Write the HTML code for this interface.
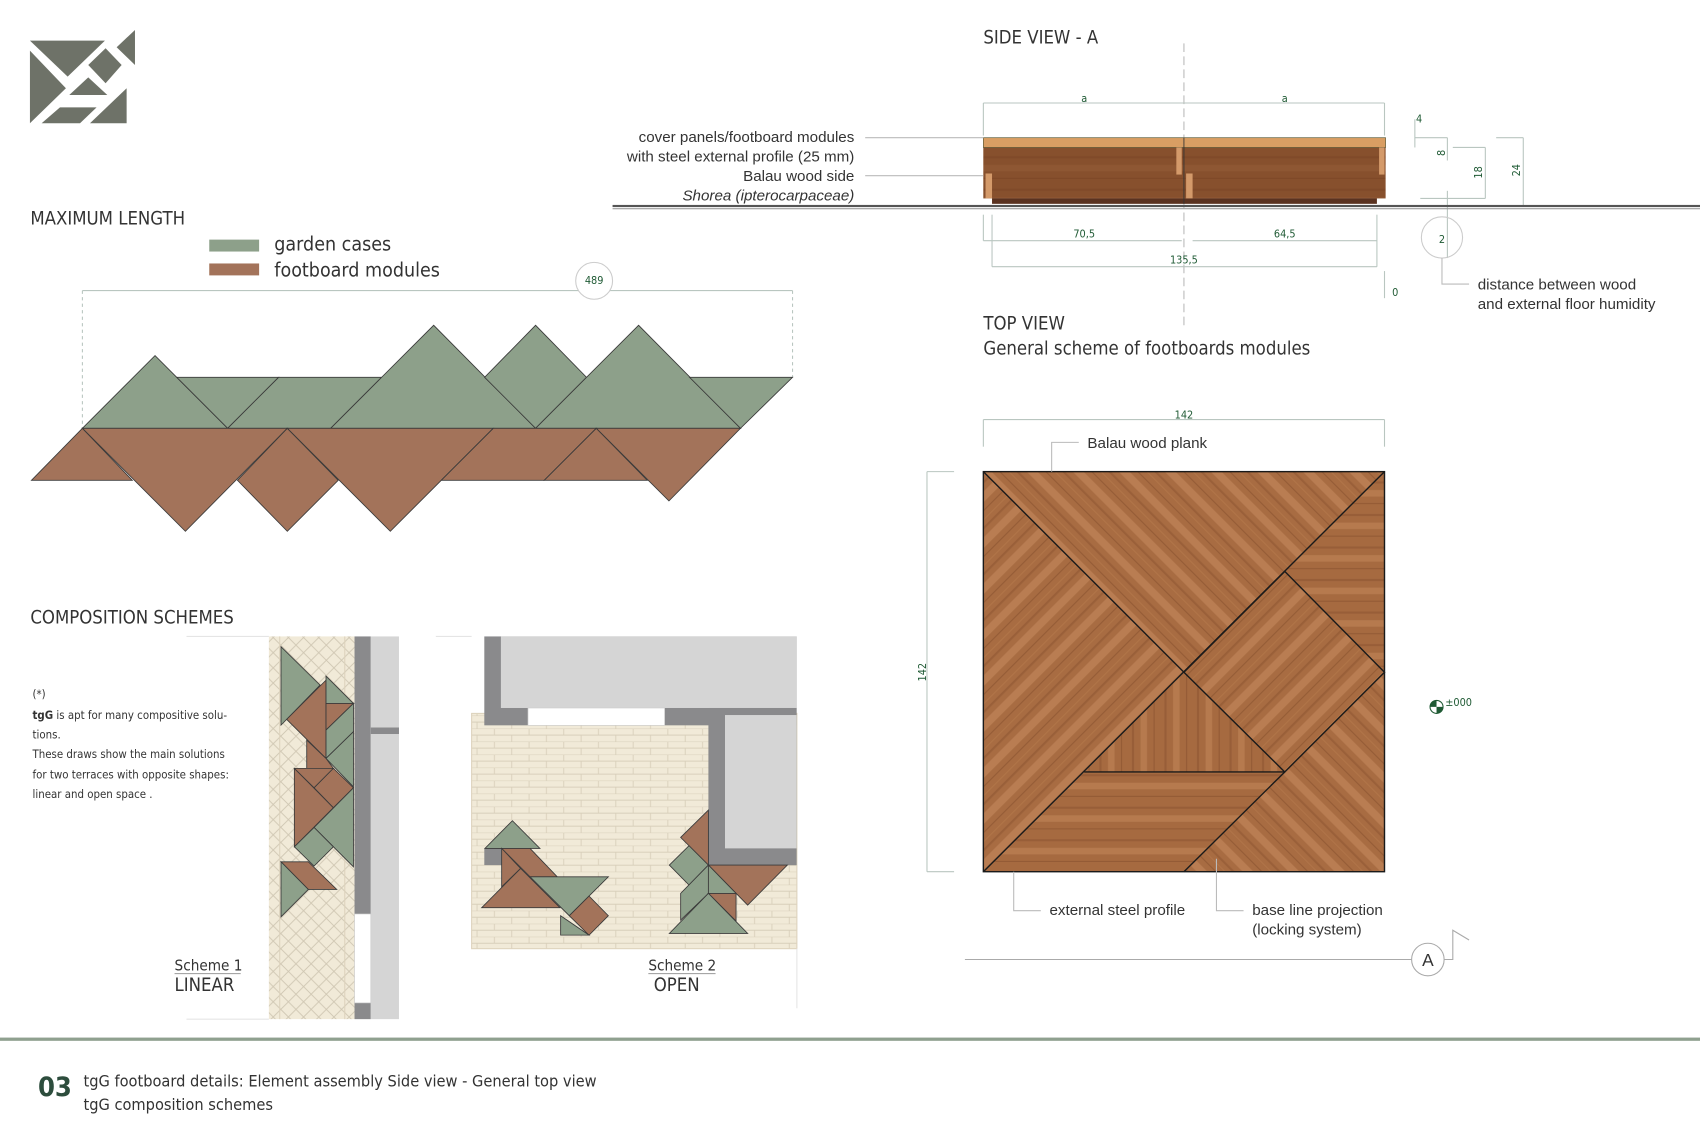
<!DOCTYPE html>
<html><head><meta charset="utf-8"><style>
html,body{margin:0;padding:0;background:#fff;}
svg{display:block;}
.h{font-family:"DejaVu Sans Condensed","DejaVu Sans",sans-serif;fill:#333;}
.l{font-family:"Liberation Sans",sans-serif;fill:#333;}
.d{font-family:"DejaVu Sans Condensed","DejaVu Sans",sans-serif;fill:#1f5a34;font-size:10px;}
.dim{stroke:#b9c6c0;stroke-width:1;fill:none;}
.g{fill:#8da08a;stroke:#3a3a3a;stroke-width:0.8;}
.b{fill:#a3735a;stroke:#3a3a3a;stroke-width:0.8;}
.ld{stroke:#bbb;stroke-width:1;fill:none;}
</style></head><body>
<svg width="1700" height="1133" viewBox="0 0 1568 1045" xmlns="http://www.w3.org/2000/svg">
<defs>
<pattern id="w1" width="30" height="30" patternUnits="userSpaceOnUse" patternTransform="rotate(45)">
<rect width="30" height="30" fill="#a86c42"/><rect x="2" width="7" height="30" fill="#b97d52"/><rect x="14" width="1" height="30" fill="#955c36"/><rect x="20" width="1" height="30" fill="#b07448"/><rect x="25" width="2" height="30" fill="#9a6039"/></pattern>
<pattern id="w2" width="30" height="30" patternUnits="userSpaceOnUse" patternTransform="rotate(-45)">
<rect width="30" height="30" fill="#a86c42"/><rect x="2" width="7" height="30" fill="#b97d52"/><rect x="14" width="1" height="30" fill="#955c36"/><rect x="20" width="1" height="30" fill="#b07448"/><rect x="25" width="2" height="30" fill="#9a6039"/></pattern>
<pattern id="w3" width="30" height="30" patternUnits="userSpaceOnUse">
<rect width="30" height="30" fill="#a66a40"/><rect y="2" width="30" height="6" fill="#b67a4e"/><rect y="14" width="30" height="1" fill="#935a35"/><rect y="24" width="30" height="2" fill="#985e38"/></pattern>
<pattern id="w4" width="30" height="30" patternUnits="userSpaceOnUse">
<rect width="30" height="30" fill="#a66a40"/><rect x="2" width="6" height="30" fill="#b67a4e"/><rect x="14" width="1" height="30" fill="#935a35"/><rect x="24" width="2" height="30" fill="#985e38"/></pattern>
<pattern id="hatch" width="14" height="14" patternUnits="userSpaceOnUse">
<rect width="14" height="14" fill="#f1ead8"/><path d="M0 0L14 14M14 0L0 14" stroke="#cfc6b2" stroke-width="0.8"/></pattern>
<pattern id="brick" width="32" height="12" patternUnits="userSpaceOnUse">
<rect width="32" height="12" fill="#f1ead8"/><path d="M0 0H32M0 6H32M8 0V6M24 6V12" stroke="#d8cfba" stroke-width="0.8"/></pattern>
</defs>

<!-- logo -->
<g fill="#6e7268">
<polygon points="27.6,37.5 96.8,37.5 62.4,70.7"/>
<polygon points="27.6,46.7 60.8,81.4 27.6,113.7"/>
<polygon points="63.9,87.6 81.4,71.3 99,87.6"/>
<polygon points="81.4,59.9 97.4,44.5 112.2,59.9 97.4,76.8"/>
<polygon points="107.6,43.6 124.5,27.6 124.5,59.9"/>
<polygon points="55.3,99 89.1,99 73.8,113.7 38.4,113.7"/>
<polygon points="83,113.7 116.8,81.4 116.8,113.7"/>
</g>

<!-- side view -->
<text class="h" x="907" y="40" font-size="17">SIDE VIEW - A</text>
<line x1="1092" y1="40" x2="1092" y2="300" stroke="#bbb" stroke-dasharray="8,4"/>
<g class="dim"><line x1="907" y1="95" x2="1277" y2="95"/><line x1="907" y1="95" x2="907" y2="125"/><line x1="1277" y1="95" x2="1277" y2="125"/>
<line x1="907" y1="222" x2="1090" y2="222"/><line x1="1100" y1="222" x2="1270" y2="222"/><line x1="915" y1="246" x2="1270" y2="246"/>
<line x1="907" y1="198" x2="907" y2="222"/><line x1="1270" y1="198" x2="1270" y2="246"/><line x1="915" y1="198" x2="915" y2="246"/>
<line x1="1305" y1="110" x2="1305" y2="136"/><line x1="1305" y1="127" x2="1335" y2="127"/><line x1="1335" y1="127" x2="1335" y2="148"/>
<line x1="1340" y1="136" x2="1370" y2="136"/><line x1="1370" y1="136" x2="1370" y2="183"/><line x1="1380" y1="127" x2="1405" y2="127"/><line x1="1405" y1="127" x2="1405" y2="190"/>
<line x1="1310" y1="183" x2="1370" y2="183"/><line x1="1335" y1="176" x2="1335" y2="238"/><line x1="1277" y1="250" x2="1277" y2="275"/>
</g>
<text class="d" x="1000" y="94" text-anchor="middle">a</text><text class="d" x="1185" y="94" text-anchor="middle">a</text>
<text class="d" x="1000" y="219" text-anchor="middle">70,5</text><text class="d" x="1185" y="219" text-anchor="middle">64,5</text>
<text class="d" x="1092" y="243" text-anchor="middle">135,5</text><text class="d" x="1306" y="113">4</text>
<text class="d" x="1284" y="273">0</text>
<text class="d" transform="translate(1333,141) rotate(-90)" text-anchor="middle">8</text>
<text class="d" transform="translate(1367,159) rotate(-90)" text-anchor="middle">18</text>
<text class="d" transform="translate(1402,157) rotate(-90)" text-anchor="middle">24</text>
<circle cx="1330" cy="219" r="19" fill="none" stroke="#ccc"/><text class="d" x="1330" y="224" text-anchor="middle">2</text>
<path d="M1330 238V262H1355" class="ld"/>
<text class="l" x="1363" y="267" font-size="14">distance between wood</text>
<text class="l" x="1363" y="285" font-size="14">and external floor humidity</text>
<rect x="907" y="136" width="371" height="47" fill="url(#w3)"/>
<rect x="907" y="136" width="371" height="47" fill="#6e3a1e" opacity="0.55"/>
<rect x="907" y="127" width="371" height="9" fill="#d99e63" stroke="#553" stroke-width="0.6"/>
<rect x="915" y="183" width="355" height="5" fill="#5a3220"/>
<rect x="1085" y="136" width="5" height="25" fill="#d49a6a"/><rect x="1272" y="136" width="5" height="25" fill="#d49a6a"/>
<rect x="909" y="160" width="6" height="23" fill="#d49a6a"/><rect x="1094" y="160" width="6" height="23" fill="#d49a6a"/>
<line x1="1092" y1="127" x2="1092" y2="188" stroke="#333" stroke-width="0.8"/>
<rect x="565" y="189" width="1003" height="2" fill="#555"/><rect x="565" y="192" width="1003" height="1" fill="#999"/>
<path d="M798 127H907M798 162H907" class="ld"/>
<g class="l" font-size="14" text-anchor="end"><text x="788" y="131">cover panels/footboard modules</text><text x="788" y="149">with steel external profile (25 mm)</text><text x="788" y="167">Balau wood side</text><text x="788" y="185" font-style="italic">Shorea (ipterocarpaceae)</text></g>

<!-- max length -->
<text class="h" x="28" y="207" font-size="17">MAXIMUM LENGTH</text>
<rect x="193" y="221" width="46" height="11" fill="#8da08a"/><rect x="193" y="243" width="46" height="11" fill="#a3735a"/>
<text class="h" x="253" y="231" font-size="18">garden cases</text><text class="h" x="253" y="255" font-size="18">footboard modules</text>
<g class="dim"><line x1="76" y1="268" x2="731" y2="268"/><line x1="76" y1="268" x2="76" y2="395" stroke-dasharray="3,3"/><line x1="731" y1="268" x2="731" y2="348" stroke-dasharray="3,3"/></g>
<circle cx="548" cy="259" r="17" fill="#fff" stroke="#ccc"/><text class="d" x="548" y="262" text-anchor="middle" font-size="9">489</text>
<polygon class="g" points="76,395 143,328 210,395"/>
<polygon class="g" points="163,348 257,348 210,395"/>
<polygon class="g" points="257,348 352,348 305,395 210,395"/>
<polygon class="g" points="305,395 400,300 494,395"/>
<polygon class="g" points="447,348 494,300 541,348 494,395"/>
<polygon class="g" points="494,395 589,300 683,395"/>
<polygon class="g" points="636,348 731,348 683,395"/>
<polygon class="b" points="76,395 29,443 122,443"/>
<polygon class="b" points="76,395 265,395 171,490"/>
<polygon class="b" points="265,395 312,443 265,490 219,443"/>
<polygon class="b" points="265,395 455,395 360,490"/>
<polygon class="b" points="455,395 550,395 502,443 407,443"/>
<polygon class="b" points="550,395 597,443 502,443"/>
<polygon class="b" points="550,395 683,395 617,462"/>

<!-- composition schemes -->
<text class="h" x="28" y="575" font-size="17">COMPOSITION SCHEMES</text>
<g class="h" font-size="10.5"><text x="30" y="644">(*)</text><text x="30" y="663"><tspan font-weight="bold">tgG</tspan> is apt for many compositive solu-</text><text x="30" y="681">tions.</text><text x="30" y="699">These draws show the main solutions</text><text x="30" y="718">for two terraces with opposite shapes:</text><text x="30" y="736">linear and open space .</text></g>
<rect x="248" y="587" width="79" height="353" fill="url(#hatch)"/>
<line x1="258" y1="587" x2="258" y2="940" stroke="#ddd3bd"/><line x1="318" y1="587" x2="318" y2="940" stroke="#ddd3bd"/>
<rect x="327" y="587" width="15" height="353" fill="#8a8a8c"/><rect x="342" y="587" width="26" height="353" fill="#d5d5d5"/>
<rect x="342" y="671" width="26" height="6" fill="#8a8a8c"/>
<rect x="327" y="843" width="15" height="82" fill="#fff" stroke="#ccc" stroke-width="0.6"/>
<polygon class="g" points="259.2,596.5 295.2,631.9 259.2,668.8"/>
<polygon class="b" points="264.4,663.5 300.7,627.3 300.7,699.5"/>
<polygon class="g" points="300.7,623.6 326,648.8 300.7,648.8"/>
<polygon class="b" points="300.7,648.8 326,648.8 300.7,673.4"/>
<polygon class="g" points="300.7,673.4 326,648.8 326,674.9 300.7,699.5"/>
<polygon class="g" points="300.7,699.5 326,674.9 326,725.7"/>
<polygon class="b" points="282.9,682.6 300.7,699.5 307.5,708.7 282.9,708.7"/>
<polygon class="b" points="271.5,708.7 307.5,745 271.5,781"/>
<polygon class="b" points="271.5,708.7 307.5,708.7 289.7,726.6"/>
<polygon class="b" points="289.7,726.6 307.5,708.7 326,726.6 307.5,745"/>
<polygon class="g" points="326,726.6 326,799.5 289.7,763.2"/>
<polygon class="g" points="271.5,781 289.7,763.2 307.5,781 289.7,798.8"/>
<polygon class="b" points="259.2,794.9 284.4,794.9 310.6,820.4 284.4,820.4"/>
<polygon class="g" points="259.2,794.9 284.4,820.4 259.2,845.6"/>
<path d="M172 940H248M172 587H248" stroke="#e5e5e5"/>
<text class="h" x="161" y="895" font-size="14">Scheme 1</text><line x1="161" y1="898" x2="222" y2="898" stroke="#999"/>
<text class="h" x="161" y="914" font-size="17">LINEAR</text>

<rect x="435" y="658" width="300" height="217" fill="url(#brick)" stroke="#ddd3bd"/>
<rect x="446.7" y="587" width="288" height="82" fill="#8a8a8c"/>
<rect x="462" y="587" width="273" height="66" fill="#d5d5d5"/>
<rect x="487" y="653" width="126" height="16" fill="#fff" stroke="#ccc" stroke-width="0.6"/>
<rect x="653.4" y="653" width="81.4" height="145" fill="#8a8a8c"/>
<rect x="668.7" y="659.5" width="66" height="123" fill="#d5d5d5"/>
<rect x="446.7" y="782.5" width="16" height="15.4" fill="#8a8a8c"/>
<polygon class="g" points="447.3,782.5 472.6,757 498,782.5"/>
<polygon class="b" points="462.7,782.5 488.9,782.5 514,808.7 488.9,808.7"/>
<polygon class="b" points="462.7,782.5 480.2,801 462.7,817.9"/>
<polygon class="b" points="444.3,837.2 480.2,801 516.5,837.2"/>
<polygon class="g" points="488.9,808.7 561.1,808.7 525.1,844.6"/>
<polygon class="b" points="525.1,844.6 543.3,826.5 561.1,844.6 543.3,862.5"/>
<polygon class="g" points="517.1,844.6 543.3,862.5 517.1,862.5"/>
<polygon class="b" points="653.4,747.2 627.8,772.4 653.4,797.9"/>
<polygon class="g" points="617.4,797.9 635.5,780 653.4,797.9 635.5,816.3"/>
<polygon class="b" points="653.4,797.9 726.2,797.9 689.6,834.8"/>
<polygon class="g" points="627.8,824 653.4,797.9 653.4,824 627.8,848.6"/>
<polygon class="g" points="653.4,797.9 678.9,824 653.4,824"/>
<polygon class="b" points="653.4,824 678.9,824 678.9,849.5"/>
<polygon class="g" points="617.4,860.9 653.4,824 689.6,860.9"/>
<path d="M402 587H435M735 875V930" stroke="#e5e5e5"/>
<text class="h" x="598" y="895" font-size="14">Scheme 2</text><line x1="598" y1="898" x2="660" y2="898" stroke="#999"/>
<text class="h" x="603" y="914" font-size="17">OPEN</text>

<!-- top view -->
<text class="h" x="907" y="304" font-size="17">TOP VIEW</text>
<text class="h" x="907" y="327" font-size="17">General scheme of footboards modules</text>
<g class="dim"><line x1="907" y1="387" x2="1277" y2="387"/><line x1="907" y1="387" x2="907" y2="412"/><line x1="1277" y1="387" x2="1277" y2="412"/>
<line x1="855" y1="435" x2="855" y2="804"/><line x1="855" y1="435" x2="880" y2="435"/><line x1="855" y1="804" x2="880" y2="804"/></g>
<text class="d" x="1092" y="386" text-anchor="middle">142</text>
<text class="d" transform="translate(854,620) rotate(-90)" text-anchor="middle">142</text>
<polygon points="907,435 1277,435 1092,620" fill="url(#w2)"/>
<polygon points="907,435 1092,620 907,804" fill="url(#w1)"/>
<polygon points="1277,435 1277,620 1185,527" fill="url(#w3)"/>
<polygon points="1185,527 1277,620 1185,712 1092,620" fill="url(#w1)"/>
<polygon points="1092,620 1185,712 1000,712" fill="url(#w4)"/>
<polygon points="1000,712 1185,712 1092,804 907,804" fill="url(#w3)"/>
<polygon points="1277,620 1277,804 1092,804" fill="url(#w2)"/>
<g stroke="#1a1a1a" stroke-width="1.3" fill="none">
<rect x="907" y="435" width="370" height="369"/>
<line x1="907" y1="435" x2="1092" y2="620"/><line x1="1277" y1="435" x2="907" y2="804"/>
<polygon points="1185,527 1277,620 1185,712 1092,620"/>
<line x1="1000" y1="712" x2="1185" y2="712"/><line x1="1185" y1="712" x2="1092" y2="804"/>
</g>
<path d="M970 435V408H995" class="ld"/><text class="l" x="1003" y="413" font-size="14">Balau wood plank</text>
<path d="M935 804V840H960" class="ld"/><text class="l" x="968" y="844" font-size="14">external steel profile</text>
<path d="M1122 792V840H1147" class="ld"/><text class="l" x="1155" y="844" font-size="14">base line projection</text><text class="l" x="1155" y="862" font-size="14">(locking system)</text>
<circle cx="1325" cy="652" r="6" fill="#fff" stroke="#1f5a34"/><path d="M1325 646A6 6 0 0 0 1319 652H1325ZM1325 658A6 6 0 0 0 1331 652H1325Z" fill="#1f5a34"/>
<text class="d" x="1333" y="651" font-size="8">±000</text>
<line x1="890" y1="885" x2="1302" y2="885" stroke="#aaa"/>
<circle cx="1317" cy="885" r="15" fill="#fff" stroke="#aaa"/><text class="l" x="1317" y="891" font-size="16" text-anchor="middle">A</text>
<path d="M1332 885H1340V858L1355 867" stroke="#aaa" fill="none"/>

<!-- footer -->
<rect x="0" y="957" width="1568" height="3" fill="#8fa08f"/>
<text x="35" y="1011" font-family="DejaVu Sans Condensed,DejaVu Sans,sans-serif" font-size="25" font-weight="bold" fill="#2d4d3d">03</text>
<text class="h" x="77" y="1002" font-size="15">tgG footboard details: Element assembly Side view - General top view</text>
<text class="h" x="77" y="1024" font-size="15">tgG composition schemes</text>
</svg>
</body></html>
